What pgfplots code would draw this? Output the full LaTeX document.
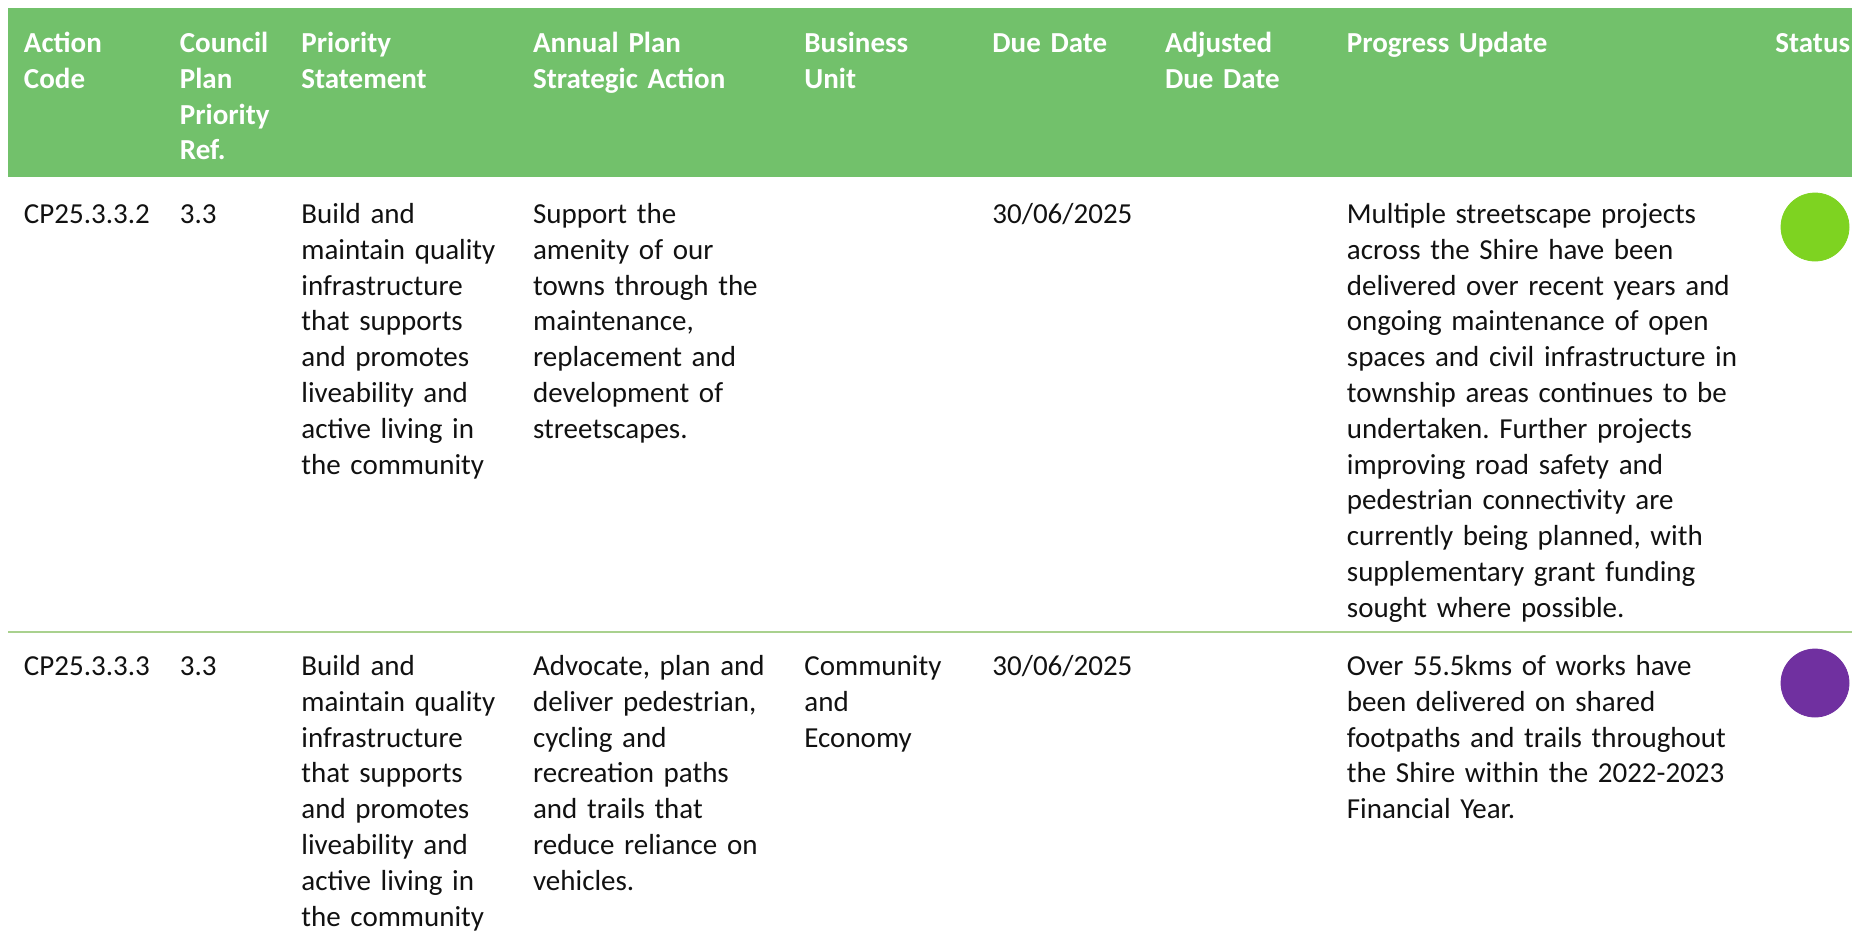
\documentclass[border=0pt]{standalone}
\usepackage{fontspec}
\setmainfont{Carlito}
\usepackage{pgfplots}
\pgfplotsset{compat=1.18}
\definecolor{hdr}{HTML}{72C16B}
\definecolor{sepline}{HTML}{A9D18E}
\definecolor{stgreen}{HTML}{7ED321}
\definecolor{stpurple}{HTML}{7030A0}
\definecolor{txt}{HTML}{111111}
\frenchspacing
\begin{document}
\begin{tikzpicture}[
  cell/.style={anchor=north west, inner sep=0pt, text width=300pt, align=left,
    font=\fontsize{14.5}{17.9}\selectfont\frenchspacing, text=txt},
  head/.style={cell, font=\fontsize{14.5}{17.9}\selectfont\bfseries, text=white}]
\begin{axis}[width=926pt, height=469.5pt, scale only axis,
  xmin=0, xmax=1852, ymin=0, ymax=939, y dir=reverse,
  hide axis, clip=false]
% header band and row separator
\fill[hdr] (axis cs:8,8) rectangle (axis cs:1852,177);
\draw[sepline, line width=1pt] (axis cs:8,632) -- (axis cs:1852,632);
% header
\node[head] at (axis cs:23.6,27) {\strut Action\\Code};
\node[head] at (axis cs:179.5,27) {\strut Council\\Plan\\Priority\\Ref.};
\node[head] at (axis cs:301,27) {\strut Priority\\Statement};
\node[head] at (axis cs:532.7,27) {\strut Annual Plan\\Strategic Action};
\node[head] at (axis cs:804,27) {\strut Business\\Unit};
\node[head] at (axis cs:992,27) {\strut Due Date};
\node[head] at (axis cs:1164.6,27) {\strut Adjusted\\Due Date};
\node[head] at (axis cs:1346.5,27) {\strut Progress Update};
\node[head] at (axis cs:1775,27) {\strut Status};
% row 1
\node[cell] at (axis cs:23.6,198) {\strut CP25.3.3.2};
\node[cell] at (axis cs:179.5,198) {\strut 3.3};
\node[cell] at (axis cs:301,198) {\strut Build and\\maintain quality\\infrastructure\\that supports\\and promotes\\liveability and\\active living in\\the community};
\node[cell] at (axis cs:532.7,198) {\strut Support the\\amenity of our\\towns through the\\maintenance,\\replacement and\\development of\\streetscapes.};
\node[cell] at (axis cs:992,198) {\strut 30/06/2025};
\node[cell] at (axis cs:1346.5,198) {\strut Multiple streetscape projects\\across the Shire have been\\delivered over recent years and\\ongoing maintenance of open\\spaces and civil infrastructure in\\township areas continues to be\\undertaken. Further projects\\improving road safety and\\pedestrian connectivity are\\currently being planned, with\\supplementary grant funding\\sought where possible.};
% row 2
\node[cell] at (axis cs:23.6,650) {\strut CP25.3.3.3};
\node[cell] at (axis cs:179.5,650) {\strut 3.3};
\node[cell] at (axis cs:301,650) {\strut Build and\\maintain quality\\infrastructure\\that supports\\and promotes\\liveability and\\active living in\\the community};
\node[cell] at (axis cs:532.7,650) {\strut Advocate, plan and\\deliver pedestrian,\\cycling and\\recreation paths\\and trails that\\reduce reliance on\\vehicles.};
\node[cell] at (axis cs:804,650) {\strut Community\\and\\Economy};
\node[cell] at (axis cs:992,650) {\strut 30/06/2025};
\node[cell] at (axis cs:1346.5,650) {\strut Over 55.5kms of works have\\been delivered on shared\\footpaths and trails throughout\\the Shire within the 2022-2023\\Financial Year.};
% status markers
\addplot[only marks, mark=*, mark size=17pt, color=stgreen] coordinates {(1815,227)};
\addplot[only marks, mark=*, mark size=17pt, color=stpurple] coordinates {(1815,683)};
\end{axis}
\pgfresetboundingbox
\useasboundingbox (current axis.south west) rectangle (current axis.north east);
\end{tikzpicture}
\end{document}
